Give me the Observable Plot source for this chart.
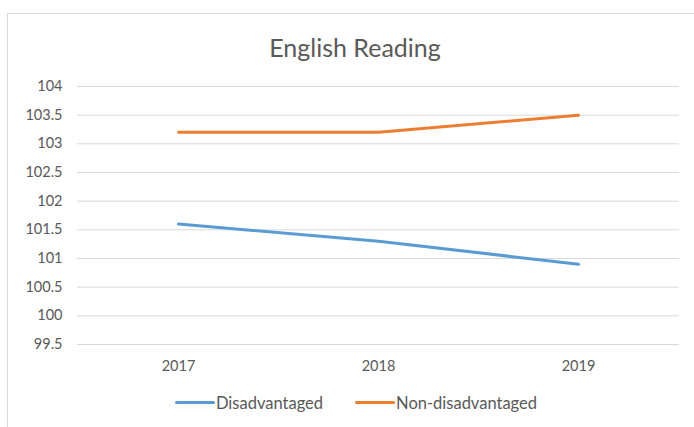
<!DOCTYPE html>
<html>
<head>
<meta charset="utf-8">
<script src="https://cdn.jsdelivr.net/npm/d3@7"></script>
<script src="https://cdn.jsdelivr.net/npm/@observablehq/plot@0.6"></script>
<style>
  html, body { margin: 0; padding: 0; background: #fff; overflow: hidden; }
  body { width: 694px; height: 427px; position: relative; font-family: Lato, "Noto Sans", sans-serif; }
  #frame { position: absolute; left: 7px; top: 13px; width: 720px; height: 450px; border: 1px solid #d9d9d9; box-sizing: border-box; }
  #chart { position: absolute; left: 0; top: 0; width: 694px; }
  #title { height: 72px; box-sizing: border-box; padding-top: 32px; text-align: center; font-size: 25px; line-height: 30px; color: #595959; padding-left: 16px; }
  #chart svg { display: block; }
  #legend { height: 47px; display: flex; justify-content: center; align-items: center; font-size: 16.5px; color: #595959; padding-left: 18px; padding-bottom: 2px; box-sizing: border-box; }
  .item { display: flex; align-items: center; margin: 0 16px; }
  .sw { width: 40px; height: 3px; border-radius: 2px; margin-right: 1px; }
</style>
</head>
<body>
<div id="frame"></div>
<div id="chart">
  <div id="title">English Reading</div>
  <div id="plot"></div>
  <div id="legend"></div>
</div>
<script>
const years = ["2017", "2018", "2019"];
const disadvantaged = [101.6, 101.3, 100.9];
const nonDisadvantaged = [103.2, 103.2, 103.5];
const seriesNames = ["Disadvantaged", "Non-disadvantaged"];
const seriesColors = ["#5b9bd5", "#ed7d31"];
const yTicks = [99.5, 100, 100.5, 101, 101.5, 102, 102.5, 103, 103.5, 104];

const rows = [];
years.forEach((y, i) => {
  rows.push({year: y, value: disadvantaged[i], series: seriesNames[0]});
  rows.push({year: y, value: nonDisadvantaged[i], series: seriesNames[1]});
});

const plot = Plot.plot({
  width: 694,
  height: 308,
  marginTop: 14,
  marginBottom: 36,
  marginLeft: 77,
  marginRight: 15,
  style: { fontFamily: "Lato, 'Noto Sans', sans-serif", fontSize: "14.5px", color: "#595959", background: "transparent" },
  x: { type: "point", domain: years, padding: 0.5, label: null },
  y: { domain: [99.5, 104], ticks: yTicks, label: null },
  color: { domain: seriesNames, range: seriesColors },
  marks: [
    Plot.gridY(yTicks, { stroke: "#d9d9d9", strokeOpacity: 1, strokeWidth: 1 }),
    Plot.axisY(yTicks, { tickSize: 0, tickPadding: 15, fill: "#595959", fontSize: 14.5, label: null, tickFormat: d => String(d) }),
    Plot.axisX({ tickSize: 0, tickPadding: 16, fill: "#595959", fontSize: 14.5, label: null }),
    Plot.line(rows, { x: "year", y: "value", z: "series", stroke: "series", strokeWidth: 3, strokeLinecap: "round", strokeLinejoin: "round" })
  ]
});
document.getElementById("plot").appendChild(plot);

const legend = document.getElementById("legend");
seriesNames.forEach((name, i) => {
  const item = document.createElement("div");
  item.className = "item";
  const sw = document.createElement("span");
  sw.className = "sw";
  sw.style.background = seriesColors[i];
  const t = document.createElement("span");
  t.textContent = name;
  item.appendChild(sw);
  item.appendChild(t);
  legend.appendChild(item);
});
</script>
</body>
</html>
